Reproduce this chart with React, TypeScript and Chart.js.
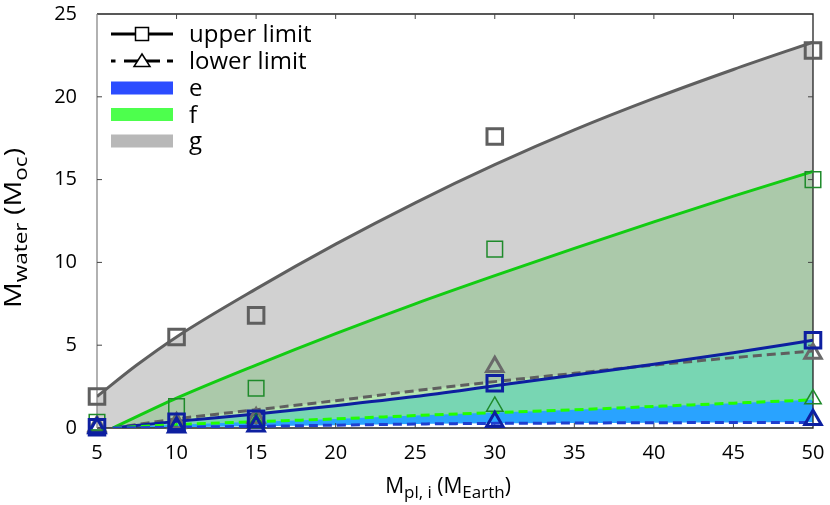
import React, { useEffect, useRef } from 'react';
import { Chart, registerables } from 'chart.js';

Chart.register(...registerables);

const FONT = '"Open Sans", sans-serif';

// ---- fitted curves (upper / lower limits) ----
const gUpperX = [5, 7.5, 10, 15, 20, 25, 30, 35, 40, 45, 50];
const gUpperY = [1.9, 3.8, 5.5, 8.4, 11.1, 13.6, 15.9, 18.0, 19.9, 21.65, 23.3];
const curveX = [6, 10, 15, 20, 25, 30, 35, 40, 45, 50];
const fUpperY = [0, 1.8, 3.8, 5.7, 7.5, 9.2, 10.85, 12.45, 14.0, 15.5];
const eUpperY = [0, 0.4, 0.85, 1.35, 1.9, 2.55, 3.2, 3.85, 4.55, 5.3];
const gLowerY = [0, 0.55, 1.1, 1.65, 2.25, 2.8, 3.3, 3.8, 4.25, 4.65];
const fLowerY = [0, 0.2, 0.38, 0.55, 0.75, 0.93, 1.1, 1.3, 1.5, 1.7];
const eLowerY = [0, 0.05, 0.1, 0.17, 0.24, 0.28, 0.3, 0.32, 0.33, 0.34];

// ---- simulated points ----
const simX = [5, 10, 15, 30, 50];
const gUpperPts = [1.9, 5.5, 6.8, 17.6, 22.8];
const fUpperPts = [0.35, 1.3, 2.4, 10.8, 15.0];
const eUpperPts = [0.05, 0.38, 0.55, 2.7, 5.3];
const gLowerPts = [0.1, 0.3, 0.6, 3.7, 4.5];
const fLowerPts = [0.03, 0.1, 0.3, 1.3, 1.75];
const eLowerPts = [0.0, 0.05, 0.1, 0.38, 0.5];

// ---- ticks ----
const xTickValues = [5, 10, 15, 20, 25, 30, 35, 40, 45, 50];
const yTickValues = [0, 5, 10, 15, 20, 25];

// ---- legend ----
const legendLabels = ['upper limit', 'lower limit', 'e', 'f', 'g'];
const legendBoxColors = ['#2b4cff', '#4dff4d', '#b8b8b8'];

const pts = (xs: number[], ys: number[]) => xs.map((x, i) => ({ x, y: ys[i] }));

type Part = { t: string; sub?: boolean };

function richWidth(ctx: CanvasRenderingContext2D, parts: Part[], main: number, sub: number) {
  let w = 0;
  for (const p of parts) {
    ctx.font = `${p.sub ? sub : main}px ${FONT}`;
    w += ctx.measureText(p.t).width;
  }
  return w;
}

function drawRich(ctx: CanvasRenderingContext2D, parts: Part[], x: number, y: number, main: number, sub: number, shift: number) {
  let cx = x;
  for (const p of parts) {
    ctx.font = `${p.sub ? sub : main}px ${FONT}`;
    ctx.fillText(p.t, cx, y + (p.sub ? shift : 0));
    cx += ctx.measureText(p.t).width;
  }
}

const framePlugin = {
  id: 'frame',
  beforeDatasetsDraw(chart: any) {
    const { ctx, chartArea: a, scales } = chart;
    ctx.save();
    ctx.lineWidth = 1.3;
    ctx.strokeStyle = '#222';
    ctx.beginPath();
    ctx.moveTo(a.left, a.top);
    ctx.lineTo(a.right, a.top);
    ctx.lineTo(a.right, a.bottom);
    ctx.lineTo(a.left, a.bottom);
    ctx.stroke();
    ctx.strokeStyle = '#888';
    ctx.beginPath();
    ctx.moveTo(a.left, a.bottom);
    ctx.lineTo(a.left, a.top);
    ctx.stroke();
    ctx.lineWidth = 1;
    ctx.strokeStyle = '#444';
    const tl = 5;
    for (const v of xTickValues) {
      const px = scales.x.getPixelForValue(v);
      if (Math.abs(px - a.left) < 2 || Math.abs(px - a.right) < 2) continue;
      ctx.beginPath();
      ctx.moveTo(px, a.bottom);
      ctx.lineTo(px, a.bottom - tl);
      ctx.moveTo(px, a.top);
      ctx.lineTo(px, a.top + tl);
      ctx.stroke();
    }
    for (const v of yTickValues) {
      const py = scales.y.getPixelForValue(v);
      if (Math.abs(py - a.top) < 2 || Math.abs(py - a.bottom) < 2) continue;
      ctx.beginPath();
      ctx.moveTo(a.left, py);
      ctx.lineTo(a.left + tl, py);
      ctx.moveTo(a.right, py);
      ctx.lineTo(a.right - tl, py);
      ctx.stroke();
    }
    ctx.restore();
  },
};

const legendPlugin = {
  id: 'customLegend',
  afterDatasetsDraw(chart: any) {
    const ctx: CanvasRenderingContext2D = chart.ctx;
    const x0 = 111;
    const x1 = 173;
    const xm = 142;
    const rows = [34, 61, 88, 114.5, 141];
    const tx = 189;
    ctx.save();
    // upper limit
    ctx.strokeStyle = '#000';
    ctx.lineWidth = 3;
    ctx.setLineDash([]);
    ctx.beginPath();
    ctx.moveTo(x0, rows[0]);
    ctx.lineTo(x1, rows[0]);
    ctx.stroke();
    ctx.fillStyle = '#fff';
    ctx.lineWidth = 1.5;
    ctx.fillRect(xm - 6.5, rows[0] - 6.5, 13, 13);
    ctx.strokeRect(xm - 6.5, rows[0] - 6.5, 13, 13);
    // lower limit
    ctx.lineWidth = 3;
    ctx.beginPath();
    ctx.moveTo(x0, rows[1]);
    ctx.lineTo(x0 + 4.5, rows[1]);
    ctx.moveTo(x0 + 13, rows[1]);
    ctx.lineTo(x1 - 13, rows[1]);
    ctx.moveTo(x1 - 6, rows[1]);
    ctx.lineTo(x1, rows[1]);
    ctx.stroke();
    ctx.lineWidth = 1.5;
    ctx.fillStyle = '#fff';
    ctx.beginPath();
    ctx.moveTo(xm, rows[1] - 7);
    ctx.lineTo(xm + 8, rows[1] + 5.5);
    ctx.lineTo(xm - 8, rows[1] + 5.5);
    ctx.closePath();
    ctx.fill();
    ctx.stroke();
    // boxes
    for (let i = 0; i < 3; i++) {
      ctx.fillStyle = legendBoxColors[i];
      ctx.fillRect(x0, rows[i + 2] - 6.5, x1 - x0, 13);
    }
    ctx.fillStyle = '#000';
    ctx.font = `24px ${FONT}`;
    ctx.textBaseline = 'alphabetic';
    ctx.textAlign = 'left';
    legendLabels.forEach((l, i) => ctx.fillText(l, tx, rows[i] + 8));
    ctx.restore();
  },
};

const titlePlugin = {
  id: 'axisTitles',
  afterDraw(chart: any) {
    const ctx: CanvasRenderingContext2D = chart.ctx;
    ctx.save();
    ctx.fillStyle = '#000';
    ctx.textBaseline = 'alphabetic';
    ctx.textAlign = 'left';
    const xParts: Part[] = [
      { t: 'M' },
      { t: 'pl, i', sub: true },
      { t: ' (M' },
      { t: 'Earth', sub: true },
      { t: ')' },
    ];
    const xw = richWidth(ctx, xParts, 21, 17);
    drawRich(ctx, xParts, 448 - xw / 2, 493, 21, 17, 5);
    const yParts: Part[] = [
      { t: 'M' },
      { t: 'water', sub: true },
      { t: ' (M' },
      { t: 'oc', sub: true },
      { t: ')' },
    ];
    const stretch = 1.25;
    const yw = richWidth(ctx, yParts, 23, 18) * stretch;
    ctx.translate(21, 228);
    ctx.rotate(-Math.PI / 2);
    ctx.scale(stretch, 1);
    drawRich(ctx, yParts, -yw / 2 / stretch, 0, 23, 18, 6);
    ctx.restore();
  },
};

const lineDs = (label: string, data: any[], color: string, fillColor: string, order: number, dashed: boolean) => ({
  type: 'line' as const,
  label,
  data,
  borderColor: color,
  borderWidth: 3,
  borderDash: dashed ? [9, 5] : [],
  backgroundColor: fillColor,
  fill: 'start',
  pointRadius: 0,
  cubicInterpolationMode: 'monotone' as const,
  order,
});

const markerDs = (label: string, data: any[], color: string, style: string, width: number, radius: number) => ({
  type: 'line' as const,
  label,
  data,
  showLine: false,
  borderColor: color,
  backgroundColor: 'rgba(0,0,0,0)',
  pointStyle: style,
  pointRadius: radius,
  pointBorderWidth: width,
  pointBorderColor: color,
  pointBackgroundColor: 'rgba(0,0,0,0)',
  fill: false,
  clip: false,
  order: 0,
});

export default function App() {
  const ref = useRef<HTMLCanvasElement>(null);
  useEffect(() => {
    if (!ref.current) return;
    const chart = new Chart(ref.current, {
      type: 'line',
      data: {
        datasets: [
          lineDs('g upper', pts(gUpperX, gUpperY), '#5f5f5f', '#d1d1d1', 6, false),
          lineDs('f upper', pts(curveX, fUpperY), '#12cc12', '#abc9aa', 5, false),
          lineDs('g lower', pts(curveX, gLowerY), '#5f5f5f', '#b5e6b1', 4, true),
          lineDs('e upper', pts(curveX, eUpperY), '#0d1fa0', '#78d6b3', 3, false),
          lineDs('f lower', pts(curveX, fLowerY), '#22ff00', '#29a3ff', 2, true),
          lineDs('e lower', pts(curveX, eLowerY), '#1f3fd0', '#ffffff', 1, true),
          markerDs('e upper pts', pts(simX, eUpperPts), '#0d1fa0', 'rect', 3, 11),
          markerDs('f upper pts', pts(simX, fUpperPts), '#1e8a2a', 'rect', 1.5, 11),
          markerDs('g upper pts', pts(simX, gUpperPts), '#5f5f5f', 'rect', 3, 11),
          markerDs('e lower pts', pts(simX, eLowerPts), '#0d1fa0', 'triangle', 3, 9.5),
          markerDs('f lower pts', pts(simX, fLowerPts), '#1e8a2a', 'triangle', 1.5, 9.5),
          markerDs('g lower pts', pts(simX, gLowerPts), '#6a6a6a', 'triangle', 3, 9.5),
        ] as any,
      },
      options: {
        animation: false,
        responsive: true,
        maintainAspectRatio: false,
        events: [],
        layout: { padding: { left: 0, right: 17, top: 12, bottom: 0 } },
        plugins: {
          legend: { display: false },
          tooltip: { enabled: false },
          filler: { drawTime: 'beforeDatasetsDraw' },
        } as any,
        scales: {
          x: {
            type: 'linear',
            min: 5,
            max: 50,
            grid: { display: false, drawTicks: false },
            border: { display: false },
            afterBuildTicks: (s: any) => {
              s.ticks = xTickValues.map((v) => ({ value: v }));
            },
            afterFit: (s: any) => {
              s.height = 77;
              s.paddingLeft = 0;
              s.paddingRight = 0;
            },
            ticks: {
              autoSkip: false,
              maxRotation: 0,
              padding: 13,
              color: '#000',
              font: { family: FONT, size: 20 },
            },
          },
          y: {
            type: 'linear',
            min: 0,
            max: 25,
            grid: { display: false, drawTicks: false },
            border: { display: false },
            afterBuildTicks: (s: any) => {
              s.ticks = yTickValues.map((v) => ({ value: v }));
            },
            afterFit: (s: any) => {
              s.width = 97;
              s.paddingTop = 0;
              s.paddingBottom = 0;
            },
            ticks: {
              padding: 20,
              color: '#000',
              font: { family: FONT, size: 20 },
            },
          },
        } as any,
      },
      plugins: [framePlugin, legendPlugin, titlePlugin],
    });
    return () => chart.destroy();
  }, []);
  return (
    <div style={{ position: 'absolute', left: 0, top: 0, width: 830, height: 505 }}>
      <canvas ref={ref} />
    </div>
  );
}
